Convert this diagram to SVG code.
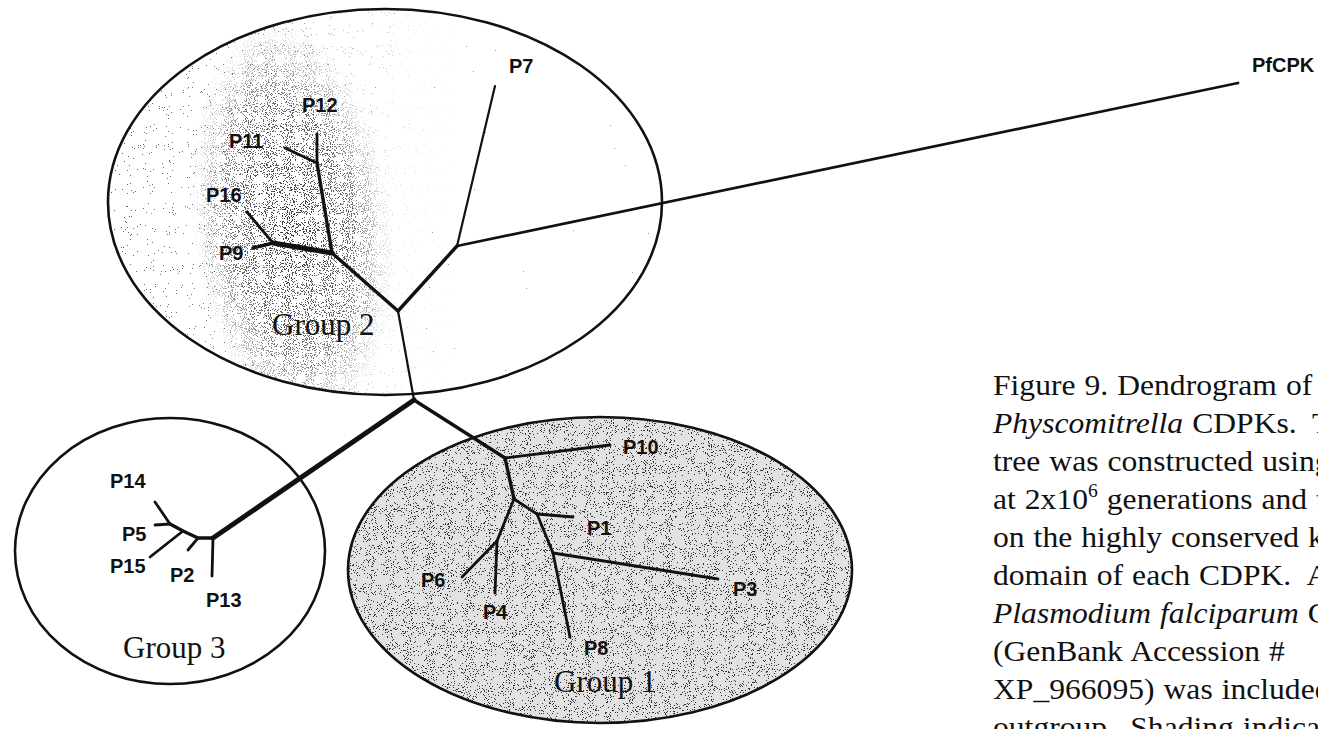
<svg xmlns="http://www.w3.org/2000/svg" width="1318" height="729" viewBox="0 0 1318 729">
  <style>
    .ring { fill: none; stroke: #111; stroke-width: 2.6; }
    .br { stroke: #111; stroke-linecap: round; stroke-linejoin: round; fill: none; }
    .w2 { stroke-width: 2.2; }
    .w25 { stroke-width: 2.8; }
    .w3 { stroke-width: 3.4; }
    .w4 { stroke-width: 5; }
    .lbl { font-family: "Liberation Sans", Arial, sans-serif; font-size: 20px; font-weight: bold; fill: #111; }
    .grp { font-family: "Liberation Serif", "Times New Roman", serif; font-size: 31px; fill: #111; }
    .cap { font-family: "Liberation Serif", "Times New Roman", serif; font-size: 29px; fill: #111; word-spacing: 1px; }
    .it { font-style: italic; }
  </style>
  <defs>
    <!-- stipple grain: thresholded noise turned into dark dots -->
    <filter id="dotsDense" x="0" y="0" width="1" height="1" color-interpolation-filters="sRGB">
      <feTurbulence type="fractalNoise" baseFrequency="0.95" numOctaves="2" seed="4"/>
      <feColorMatrix type="matrix" values="0 0 0 0 0.08  0 0 0 0 0.08  0 0 0 0 0.08  1 0 0 0 0"/>
      <feComponentTransfer>
        <feFuncA type="discrete" tableValues="0 0 0 0 0 0 0 0 0 0 0 0 0.85 0.85 0.85 0.85 0.85 0.85 0.85 0.85"/>
      </feComponentTransfer>
    </filter>
    <filter id="dotsG1" x="0" y="0" width="1" height="1" color-interpolation-filters="sRGB">
      <feTurbulence type="fractalNoise" baseFrequency="0.95" numOctaves="2" seed="21"/>
      <feColorMatrix type="matrix" values="0 0 0 0 0.08  0 0 0 0 0.08  0 0 0 0 0.08  1 0 0 0 0"/>
      <feComponentTransfer>
        <feFuncA type="discrete" tableValues="0 0 0 0 0 0 0 0 0 0 0 0 0 0.85 0.85 0.85 0.85 0.85 0.85 0.85"/>
      </feComponentTransfer>
    </filter>
    <filter id="dotsMid" x="0" y="0" width="1" height="1" color-interpolation-filters="sRGB">
      <feTurbulence type="fractalNoise" baseFrequency="0.95" numOctaves="2" seed="11"/>
      <feColorMatrix type="matrix" values="0 0 0 0 0.1  0 0 0 0 0.1  0 0 0 0 0.1  1 0 0 0 0"/>
      <feComponentTransfer>
        <feFuncA type="discrete" tableValues="0 0 0 0 0 0 0 0 0 0 0 0 0 0 0 0.7 0.7 0.7 0.7 0.7"/>
      </feComponentTransfer>
    </filter>
    <filter id="dotsSparse" x="0" y="0" width="1" height="1" color-interpolation-filters="sRGB">
      <feTurbulence type="fractalNoise" baseFrequency="0.95" numOctaves="2" seed="9"/>
      <feColorMatrix type="matrix" values="0 0 0 0 0.2  0 0 0 0 0.2  0 0 0 0 0.2  1 0 0 0 0"/>
      <feComponentTransfer>
        <feFuncA type="discrete" tableValues="0 0 0 0 0 0 0 0 0 0 0 0 0 0 0 0 0 0.5 0.5 0.5"/>
      </feComponentTransfer>
    </filter>
    <clipPath id="clipG1"><ellipse cx="600" cy="570" rx="252" ry="153"/></clipPath>
    <clipPath id="clipG2"><ellipse cx="385" cy="202" rx="277" ry="193"/></clipPath>
    <radialGradient id="fade">
      <stop offset="0" stop-color="#fff"/>
      <stop offset="0.6" stop-color="#bbb"/>
      <stop offset="1" stop-color="#000"/>
    </radialGradient>
    <linearGradient id="leftFade" gradientUnits="userSpaceOnUse" x1="110" y1="0" x2="460" y2="0">
      <stop offset="0" stop-color="#fff"/>
      <stop offset="0.45" stop-color="#bbb"/>
      <stop offset="1" stop-color="#000"/>
    </linearGradient>
    <mask id="maskG2dark" maskUnits="userSpaceOnUse" x="0" y="0" width="1318" height="729">
      <ellipse cx="292" cy="225" rx="100" ry="205" fill="url(#fade)" transform="rotate(-6 292 225)"/>
    </mask>
    <mask id="maskG2left" maskUnits="userSpaceOnUse" x="0" y="0" width="1318" height="729">
      <rect x="100" y="0" width="570" height="400" fill="url(#leftFade)"/>
    </mask>
  </defs>

  <rect width="1318" height="729" fill="#fff"/>

  <!-- Group 2 -->
  <g id="group2">
    <ellipse cx="385" cy="202" rx="277" ry="193" fill="#fff"/>
    <rect x="100" y="0" width="570" height="400" filter="url(#dotsSparse)" clip-path="url(#clipG2)"/>
    <rect x="100" y="0" width="570" height="400" filter="url(#dotsMid)" clip-path="url(#clipG2)" mask="url(#maskG2left)"/>
    <rect x="100" y="0" width="570" height="400" filter="url(#dotsDense)" clip-path="url(#clipG2)" mask="url(#maskG2dark)"/>
    <ellipse class="ring" cx="385" cy="202" rx="277" ry="193"/>
    <text class="grp" x="272" y="335">Group 2</text>
  </g>

  <!-- Group 3 -->
  <g id="group3">
    <ellipse class="ring" cx="170" cy="551" rx="155" ry="133" fill="#fff"/>
    <text class="grp" x="123" y="658">Group 3</text>
  </g>

  <!-- Group 1 -->
  <g id="group1">
    <ellipse cx="600" cy="570" rx="252" ry="153" fill="#e2e2e2"/>
    <rect x="340" y="410" width="520" height="320" filter="url(#dotsG1)" clip-path="url(#clipG1)"/>
    <ellipse class="ring" cx="600" cy="570" rx="252" ry="153"/>
    <text class="grp" x="554" y="692">Group 1</text>
  </g>

  <!-- tree branches -->
  <g id="connectors">
    <!-- central stem -->
    <line class="br w2" x1="414" y1="400" x2="398" y2="311"/>
    <line class="br w4" x1="414" y1="400" x2="213" y2="538"/>
    <line class="br w3" x1="414" y1="400" x2="505" y2="458"/>
    <!-- group 2 clade -->
    <line class="br w3" x1="398" y1="311" x2="332" y2="253"/>
    <line class="br w3" x1="398" y1="311" x2="457" y2="246"/>
    <line class="br w2" x1="457" y1="246" x2="495" y2="86"/>
    <line class="br w25" x1="457" y1="246" x2="1238" y2="83"/>
    <line class="br w3" x1="332" y1="253" x2="317" y2="163"/>
    <line class="br w25" x1="317" y1="163" x2="317" y2="134"/>
    <line class="br w25" x1="317" y1="163" x2="285" y2="148"/>
    <line class="br w4" x1="332" y1="253" x2="273" y2="243"/>
    <line class="br w25" x1="273" y1="243" x2="247" y2="212"/>
    <line class="br w3" x1="273" y1="243" x2="253" y2="248"/>
    <!-- group 3 clade -->
    <polyline class="br w3" points="213,538 198,538 183,531 170,524"/>
    <line class="br w25" x1="170" y1="524" x2="155" y2="502"/>
    <line class="br w25" x1="170" y1="524" x2="155" y2="525"/>
    <line class="br w25" x1="183" y1="531" x2="150" y2="557"/>
    <line class="br w25" x1="198" y1="538" x2="188" y2="550"/>
    <line class="br w25" x1="213" y1="538" x2="212" y2="576"/>
    <!-- group 1 clade -->
    <line class="br w25" x1="505" y1="458" x2="610" y2="445"/>
    <line class="br w3" x1="505" y1="458" x2="514" y2="499"/>
    <line class="br w25" x1="514" y1="499" x2="537" y2="514"/>
    <line class="br w25" x1="537" y1="514" x2="573" y2="517"/>
    <line class="br w25" x1="537" y1="514" x2="553" y2="553"/>
    <line class="br w25" x1="553" y1="553" x2="718" y2="579"/>
    <line class="br w25" x1="553" y1="553" x2="570" y2="637"/>
    <line class="br w25" x1="514" y1="499" x2="497" y2="541"/>
    <line class="br w25" x1="497" y1="541" x2="462" y2="577"/>
    <line class="br w25" x1="497" y1="541" x2="495" y2="593"/>
  </g>

  <!-- leaf labels -->
  <g id="leaves">
    <text id="n-P7" class="lbl" x="509" y="73">P7</text>
    <text id="n-PfCPK" class="lbl" x="1252" y="72" font-weight="normal">PfCPK</text>
    <text id="n-P12" class="lbl" x="302" y="112">P12</text>
    <text id="n-P11" class="lbl" x="229" y="148">P11</text>
    <text id="n-P16" class="lbl" x="206" y="202">P16</text>
    <text id="n-P9" class="lbl" x="219" y="260">P9</text>
    <text id="n-P14" class="lbl" x="110" y="488">P14</text>
    <text id="n-P5" class="lbl" x="122" y="541">P5</text>
    <text id="n-P15" class="lbl" x="110" y="573">P15</text>
    <text id="n-P2" class="lbl" x="170" y="582">P2</text>
    <text id="n-P13" class="lbl" x="206" y="607">P13</text>
    <text id="n-P10" class="lbl" x="623" y="454">P10</text>
    <text id="n-P1" class="lbl" x="587" y="535">P1</text>
    <text id="n-P3" class="lbl" x="733" y="596">P3</text>
    <text id="n-P6" class="lbl" x="421" y="587">P6</text>
    <text id="n-P4" class="lbl" x="483" y="619">P4</text>
    <text id="n-P8" class="lbl" x="584" y="655">P8</text>
  </g>

  <!-- caption, set slightly wide like the printed column -->
  <g id="caption" class="cap" transform="translate(993 0) scale(1.09 1)">
    <text x="0" y="395">Figure 9. Dendrogram of</text>
    <text x="0" y="433"><tspan class="it">Physcomitrella</tspan> CDPKs.<tspan dx="14">T</tspan></text>
    <text x="0" y="471">tree was constructed using</text>
    <text x="0" y="509">at 2x10<tspan font-size="18" dy="-12">6</tspan><tspan dy="12"> generations and t</tspan></text>
    <text x="0" y="547">on the highly conserved k</text>
    <text x="0" y="585">domain of each CDPK.<tspan dx="14">A</tspan></text>
    <text x="0" y="623"><tspan class="it">Plasmodium falciparum</tspan> C</text>
    <text x="0" y="661">(GenBank Accession #</text>
    <text x="0" y="699">XP_966095) was included</text>
    <text x="0" y="737">outgroup.<tspan dx="14">Shading indicates</tspan></text>
  </g>
</svg>
